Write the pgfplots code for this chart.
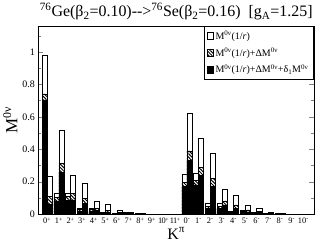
\documentclass[border=0pt]{standalone}
\usepackage{fontspec}
\setmainfont{Liberation Serif}
\usepackage{pgfplots}
\pgfplotsset{compat=1.18}
\usepackage{pgfplotstable}
\usetikzlibrary{patterns.meta}

\pgfplotstableread{
x    wl     hl     bl     wr     hr     br
0    0.977  0.742  0.705  0.231  0.108  0.060
1    0.129  0.103  0.082  0.520  0.313  0.258
2    0.129  0.108  0.085  0.241  0.127  0.088
3    0.035  0.028  0.020  0.190  0.098  0.066
4    0.035  0.030  0.020  0.078  0.037  0.022
5    0.012  0.010  0.008  0.062  0.025  0.012
6    0.006  0.005  0.004  0.024  0.010  0.006
7    0.015  0.012  0.008  0.010  0.006  0.004
8    0.005  0.004  0.003  0.006  0.004  0.002
9    0.001  0.001  0.001  0.002  0.001  0.001
10   0.001  0.001  0.001  0.001  0.001  0.001
11   0.001  0.001  0.001  0.001  0.001  0.001
12   0.245  0.195  0.170  0.620  0.390  0.333
13   0.255  0.207  0.180  0.470  0.290  0.240
14   0.067  0.047  0.037  0.374  0.220  0.170
15   0.067  0.047  0.035  0.153  0.082  0.057
16   0.020  0.017  0.012  0.118  0.057  0.035
17   0.026  0.020  0.014  0.057  0.027  0.015
18   0.012  0.008  0.006  0.037  0.018  0.010
19   0.008  0.006  0.004  0.014  0.008  0.005
20   0.003  0.002  0.002  0.005  0.003  0.002
21   0.001  0.001  0.001  0.002  0.001  0.001
22   0.001  0.001  0.001  0.001  0.001  0.001
}\data

\begin{document}
\begin{tikzpicture}
\begin{axis}[
  scale only axis, width=277pt, height=189pt,
  xmin=-0.77, xmax=22.94, ymin=0, ymax=1.16,
  xtick={0,...,22},
  xticklabels={0\textsuperscript{+},1\textsuperscript{+},2\textsuperscript{+},3\textsuperscript{+},4\textsuperscript{+},5\textsuperscript{+},6\textsuperscript{+},7\textsuperscript{+},8\textsuperscript{+},9\textsuperscript{+},1\kern-0.7pt 0\kern-0.3pt\textsuperscript{+},1\kern-0.9pt 1\kern-0.3pt\textsuperscript{+},0\textsuperscript{-},1\textsuperscript{-},2\textsuperscript{-},3\textsuperscript{-},4\textsuperscript{-},5\textsuperscript{-},6\textsuperscript{-},7\textsuperscript{-},8\textsuperscript{-},9\textsuperscript{-},10\textsuperscript{-}},
  x tick style={draw=none},
  ytick={0,0.2,0.4,0.6,0.8,1,1.2},
  minor y tick num=1,
  tick align=inside,
  major tick length=5pt, minor tick length=3pt,
  /pgf/number format/assume math mode=true,
  yticklabel style={font=\fontsize{10}{11}\selectfont},
  xticklabel style={font=\fontsize{8.4}{10}\selectfont, inner xsep=0pt},
  title={\textsuperscript{76}Ge(β\textsubscript{2}=0.10)-{}-{}>\textsuperscript{76}Se(β\textsubscript{2}=0.16)\ \ [g\textsubscript{A}=1.25]},
  title style={font=\fontsize{16}{18}\selectfont, yshift=-4pt},
  ylabel={M\textsuperscript{0ν}},
  ylabel style={font=\fontsize{17}{18}\selectfont, yshift=-2pt},
  xlabel={K\textsuperscript{π}},
  xlabel style={font=\fontsize{16}{18}\selectfont, yshift=3pt},
  legend style={at={(rel axis cs:0.997,1)}, anchor=north east, draw=black,
    font=\fontsize{10}{12}\selectfont, row sep=3pt, inner sep=3pt},
  legend cell align=left,
  legend image code/.code={\draw[#1] (0pt,-3.5pt) rectangle (6pt,3.5pt);},
]
\addlegendimage{fill=white, draw=black, line width=0.4pt}
\addlegendentry{M\textsuperscript{0ν}(1/\textit{r})}
\addlegendimage{pattern={Lines[angle=-45,distance=2.4pt,line width=1pt]}, draw=black, line width=0.4pt}
\addlegendentry{M\textsuperscript{0ν}(1/\textit{r})+ΔM\textsuperscript{0ν}}
\addlegendimage{fill=black, draw=black}
\addlegendentry{M\textsuperscript{0ν}(1/\textit{r})+ΔM\textsuperscript{0ν}+δ\textsubscript{1}M\textsuperscript{0ν}}

\addplot[ybar, bar width=0.43, bar shift=-0.215, fill=white, draw=black, line width=0.5pt, forget plot] table[x=x,y=wl]{\data};
\addplot[ybar, bar width=0.43, bar shift=0.215, fill=white, draw=black, line width=0.5pt, forget plot] table[x=x,y=wr]{\data};
\addplot[ybar, bar width=0.43, bar shift=-0.215, fill=white, pattern={Lines[angle=-45,distance=2.4pt,line width=1pt]}, draw=black, line width=0.5pt, forget plot] table[x=x,y=hl]{\data};
\addplot[ybar, bar width=0.43, bar shift=0.215, fill=white, pattern={Lines[angle=-45,distance=2.4pt,line width=1pt]}, draw=black, line width=0.5pt, forget plot] table[x=x,y=hr]{\data};
\addplot[ybar, bar width=0.43, bar shift=-0.215, fill=black, draw=black, line width=0.5pt, forget plot] table[x=x,y=bl]{\data};
\addplot[ybar, bar width=0.43, bar shift=0.215, fill=black, draw=black, line width=0.5pt, forget plot] table[x=x,y=br]{\data};
\end{axis}
\end{tikzpicture}
\end{document}
